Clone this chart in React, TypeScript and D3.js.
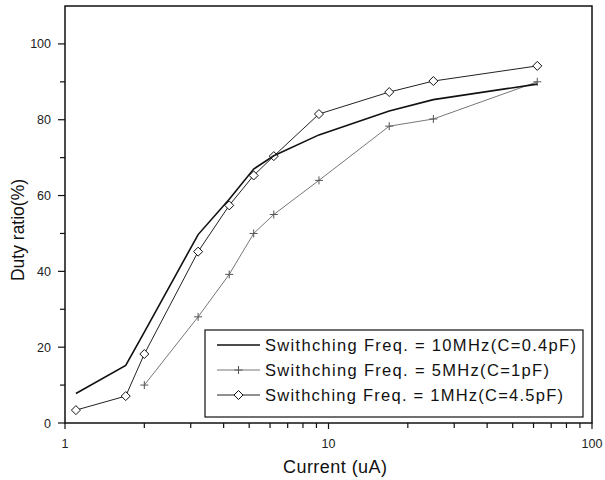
import React from 'react'
import * as d3 from 'd3'

// current (uA) sample points
const current = [1.1, 1.7, 2.0, 3.2, 4.2, 5.2, 6.2, 9.2, 17, 25, 62]
const duty10MHz = [7.8, 15.2, 24, 49.7, 59, 67, 70.5, 76, 82.3, 85.3, 89.4]
const current5MHz = [2.0, 3.2, 4.2, 5.2, 6.2, 9.2, 17, 25, 62]
const duty5MHz = [10, 28, 39.2, 50, 55, 64, 78.3, 80.2, 90]
const duty1MHz = [3.4, 7.1, 18.2, 45.2, 57.4, 65.3, 70.4, 81.5, 87.3, 90.2, 94.2]

const legendLabels = [
  'Swithching Freq. = 10MHz(C=0.4pF)',
  'Swithching Freq. = 5MHz(C=1pF)',
  'Swithching Freq. = 1MHz(C=4.5pF)'
]
const yTicks = [0, 20, 40, 60, 80, 100]
const yMinor = [10, 30, 50, 70, 90]
const xTicks = [1, 10, 100]
const xMinor = [2, 3, 4, 5, 6, 7, 8, 9, 20, 30, 40, 50, 60, 70, 80, 90]

const W = 605
const H = 480
const left = 65
const right = 592
const top = 6
const bottom = 423
const font = 'Arial, "Liberation Sans", sans-serif'

const App = () => {
  const x = d3.scaleLog().domain([1, 100]).range([left, right])
  const y = d3.scaleLinear().domain([0, 110]).range([bottom, top])

  const line = d3.line<[number, number]>()
    .x(d => x(d[0]))
    .y(d => y(d[1]))

  const s1 = current.map((c, i) => [c, duty10MHz[i]] as [number, number])
  const s2 = current5MHz.map((c, i) => [c, duty5MHz[i]] as [number, number])
  const s3 = current.map((c, i) => [c, duty1MHz[i]] as [number, number])

  const plus = (cx: number, cy: number, k: string) => (
    <path key={k} d={`M${cx - 4},${cy}H${cx + 4}M${cx},${cy - 4}V${cy + 4}`}
      stroke="#555" strokeWidth={1} fill="none" />
  )
  const diamond = (cx: number, cy: number, k: string) => (
    <path key={k} d={`M${cx},${cy - 4.5}L${cx + 4.5},${cy}L${cx},${cy + 4.5}L${cx - 4.5},${cy}Z`}
      stroke="#111" strokeWidth={1} fill="white" />
  )

  const legX = 205
  const legY = 330
  const rowY = [345, 370, 395]

  return (
    <svg width={W} height={H} style={{ position: 'absolute', left: 0, top: 0 }}>
      <rect width={W} height={H} fill="white" />
      {/* frame */}
      <rect x={left} y={top} width={right - left} height={bottom - top}
        fill="none" stroke="#111" strokeWidth={1.5} />

      {/* y ticks */}
      {yTicks.map(t => (
        <g key={'y' + t}>
          <line x1={left - 7} x2={left} y1={y(t)} y2={y(t)} stroke="#111" strokeWidth={1.2} />
          <text x={left - 14} y={y(t) + 4.5} textAnchor="end" fontFamily={font} fontSize={12.5} fill="#222">{t}</text>
        </g>
      ))}
      {yMinor.map(t => (
        <line key={'ym' + t} x1={left - 5} x2={left} y1={y(t)} y2={y(t)} stroke="#111" strokeWidth={1.2} />
      ))}

      {/* x ticks */}
      {xTicks.map(t => (
        <g key={'x' + t}>
          <line x1={x(t)} x2={x(t)} y1={bottom} y2={bottom + 6} stroke="#111" strokeWidth={1.2} />
          <text x={x(t)} y={bottom + 25} textAnchor="middle" fontFamily={font} fontSize={12.5} fill="#222">{t}</text>
        </g>
      ))}
      {xMinor.map(t => (
        <line key={'xm' + t} x1={x(t)} x2={x(t)} y1={bottom} y2={bottom + 5} stroke="#111" strokeWidth={1.2} />
      ))}

      {/* axis titles */}
      <text x={335} y={473} textAnchor="middle" fontFamily={font} fontSize={18} fill="#111"
        textLength={104} lengthAdjust="spacing">Current (uA)</text>
      <text transform={`translate(24,230) rotate(-90)`} textAnchor="middle"
        fontFamily={font} fontSize={17.5} fill="#111">Duty ratio(%)</text>

      {/* series */}
      <path d={line(s2) || ''} fill="none" stroke="#777" strokeWidth={1} />
      {s2.map((d, i) => plus(x(d[0]), y(d[1]), 'p' + i))}
      <path d={line(s3) || ''} fill="none" stroke="#222" strokeWidth={1} />
      {s3.map((d, i) => diamond(x(d[0]), y(d[1]), 'd' + i))}
      <path d={line(s1) || ''} fill="none" stroke="#111" strokeWidth={1.6} />

      {/* legend */}
      <rect x={legX} y={legY} width={378} height={87} fill="white" stroke="#111" strokeWidth={1.2} />
      <line x1={217} x2={260} y1={rowY[0]} y2={rowY[0]} stroke="#111" strokeWidth={1.6} />
      <line x1={217} x2={260} y1={rowY[1]} y2={rowY[1]} stroke="#777" strokeWidth={1} />
      {plus(238.5, rowY[1], 'lp')}
      <line x1={217} x2={260} y1={rowY[2]} y2={rowY[2]} stroke="#222" strokeWidth={1} />
      {diamond(238.5, rowY[2], 'ld')}
      {legendLabels.map((l, i) => (
        <text key={l} x={265} y={rowY[i] + 6} fontFamily={font} fontSize={16.5} fill="#111"
          textLength={[311, 284, 298][i]} lengthAdjust="spacing">{l}</text>
      ))}
    </svg>
  )
}

export default App
